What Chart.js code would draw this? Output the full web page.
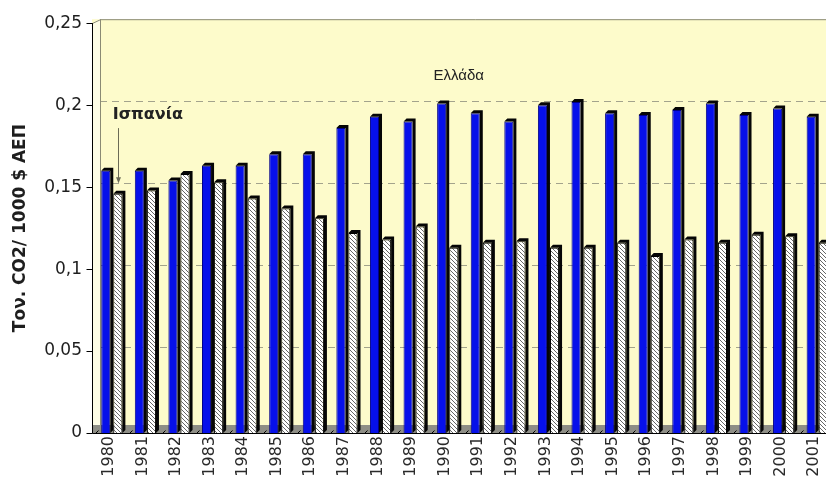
<!DOCTYPE html>
<html>
<head>
<meta charset="utf-8">
<script src="https://cdn.jsdelivr.net/npm/chart.js@4"></script>
<style>
  body { margin: 0; background: #fff; }
  #wrap { width: 826px; height: 479px; overflow: hidden; }
</style>
</head>
<body>
<div id="wrap"><canvas id="c" width="850" height="479"></canvas></div>
<script>
/* ---------- data ---------- */
const years = ["1980","1981","1982","1983","1984","1985","1986","1987","1988","1989","1990",
               "1991","1992","1993","1994","1995","1996","1997","1998","1999","2000","2001"];
const greece = [0.160,0.160,0.154,0.163,0.163,0.170,0.170,0.186,0.193,0.190,0.201,
                0.195,0.190,0.200,0.202,0.195,0.194,0.197,0.201,0.194,0.198,0.193];
const spain  = [0.146,0.148,0.158,0.153,0.143,0.137,0.131,0.122,0.118,0.126,0.113,
                0.116,0.117,0.113,0.113,0.116,0.108,0.118,0.116,0.121,0.120,0.116];
const yTicks = [0, 0.05, 0.1, 0.15, 0.2, 0.25];
const yTitle = "Τον. CO2/ 1000 $ ΑΕΠ";

const FONT = "'DejaVu Sans', Verdana, sans-serif";
const FONT2 = "'Liberation Sans', Arial, sans-serif";
const DX = 3, DY = 3;            // bar depth
const WALL_DX = 8, WALL_DY = -4; // back wall offset
const AXIS_SHIFT = 3;            // front axis sits left of the plot area

/* ---------- hatch pattern ---------- */
function makeHatch() {
  const c = document.createElement("canvas");
  c.width = 4; c.height = 4;
  const g = c.getContext("2d");
  g.fillStyle = "#fff";
  g.fillRect(0, 0, 4, 4);
  g.strokeStyle = "#666";
  g.lineWidth = 1;
  g.beginPath(); g.moveTo(-1, -1); g.lineTo(5, 5); g.stroke();
  return document.getElementById("c").getContext("2d").createPattern(c, "repeat");
}

/* ---------- 3D look ---------- */
const wallPlugin = {
  id: "wall",
  beforeDatasetsDraw(chart) {
    const ctx = chart.ctx, a = chart.chartArea, y = chart.scales.y;
    const ax = a.left - AXIS_SHIFT;
    const top = y.getPixelForValue(0.25), bot = y.getPixelForValue(0);
    ctx.save();
    // side + back wall
    ctx.fillStyle = "#fdfbcb";
    ctx.fillRect(ax, top + WALL_DY, chart.width, bot - top);
    ctx.fillStyle = "#fefde6";
    ctx.beginPath();
    ctx.moveTo(ax, top); ctx.lineTo(ax + WALL_DX, top + WALL_DY);
    ctx.lineTo(ax + WALL_DX, bot + WALL_DY); ctx.lineTo(ax, bot);
    ctx.closePath(); ctx.fill();
    // floor
    ctx.fillStyle = "#8e8e86";
    ctx.fillRect(ax, bot - 8, chart.width, 8);
    // grid lines on back wall
    ctx.strokeStyle = "#a3a38c";
    ctx.lineWidth = 1;
    ctx.setLineDash([7, 5]);
    yTicks.forEach(v => {
      if (v === 0 || v === 0.25) return;
      const py = Math.round(y.getPixelForValue(v) + WALL_DY) + 0.5;
      ctx.beginPath(); ctx.moveTo(ax + WALL_DX, py); ctx.lineTo(chart.width, py); ctx.stroke();
    });
    ctx.setLineDash([]);
    // wall borders
    ctx.strokeStyle = "#8a8a74";
    ctx.beginPath();
    ctx.moveTo(ax, top + 0.5); ctx.lineTo(ax + WALL_DX + 0.5, top + WALL_DY + 0.5);
    ctx.lineTo(chart.width, top + WALL_DY + 0.5);
    ctx.moveTo(ax + WALL_DX + 0.5, top + WALL_DY); ctx.lineTo(ax + WALL_DX + 0.5, bot - 8);
    ctx.stroke();
    ctx.restore();
  },
  afterDatasetDraw(chart, args) {
    const ctx = chart.ctx;
    const base = chart.scales.y.getPixelForValue(0);
    ctx.save();
    ctx.fillStyle = "#050505";
    args.meta.data.forEach(bar => {
      const p = bar.getProps(["x", "y", "width"], true);
      const l = p.x - p.width / 2, r = p.x + p.width / 2;
      ctx.beginPath();
      ctx.moveTo(l, p.y); ctx.lineTo(l + DX, p.y - DY); ctx.lineTo(r + DX, p.y - DY);
      ctx.lineTo(r + DX, base - DY); ctx.lineTo(r, base); ctx.lineTo(r, p.y);
      ctx.closePath(); ctx.fill();
    });
    ctx.restore();
  },
  afterDatasetsDraw(chart) {
    const ctx = chart.ctx, a = chart.chartArea, y = chart.scales.y, x = chart.scales.x;
    const ax = a.left - AXIS_SHIFT + 0.5;
    const bot = Math.round(y.getPixelForValue(0)) + 0.5;
    ctx.save();
    ctx.strokeStyle = "#000";
    ctx.lineWidth = 1;
    ctx.beginPath();
    ctx.moveTo(ax, y.getPixelForValue(0.25)); ctx.lineTo(ax, bot);
    ctx.lineTo(chart.width, bot);
    yTicks.forEach(v => {
      const py = Math.round(y.getPixelForValue(v)) + 0.5;
      ctx.moveTo(ax - 6, py); ctx.lineTo(ax, py);
    });
    // floor marks between categories
    for (let i = 0; i <= years.length; i++) {
      const px = Math.round(a.left + i * (a.right - a.left) / years.length) + 0.5;
      ctx.moveTo(px, bot); ctx.lineTo(px + 3, bot - 3);
    }
    ctx.stroke();

    // y axis title
    ctx.fillStyle = "#1e1e1e";
    ctx.textAlign = "center";
    ctx.textBaseline = "middle";
    ctx.save();
    ctx.translate(21, (y.getPixelForValue(0) + y.getPixelForValue(0.25)) / 2);
    ctx.rotate(-Math.PI / 2);
    ctx.font = "bold 17px " + FONT;
    ctx.fillText(yTitle, 0, 0);
    ctx.restore();

    // annotations
    ctx.fillStyle = "#222";
    ctx.font = "15px " + FONT2;
    ctx.fillText("Ελλάδα", x.getPixelForValue(10) + 11, y.getPixelForValue(0.218));
    ctx.font = "bold 16px " + FONT;
    ctx.fillText("Ισπανία", x.getPixelForValue(0) + 36, y.getPixelForValue(0.194));

    const sp = chart.getDatasetMeta(1).data[0];
    const axx = Math.round(sp.x) + 0.5;
    const y1 = y.getPixelForValue(0.186), y2 = y.getPixelForValue(0.153);
    ctx.strokeStyle = "#6b6b55";
    ctx.beginPath(); ctx.moveTo(axx, y1); ctx.lineTo(axx, y2); ctx.stroke();
    ctx.fillStyle = "#6b6b55";
    ctx.beginPath(); ctx.moveTo(axx - 2.5, y2 - 5); ctx.lineTo(axx + 2.5, y2 - 5); ctx.lineTo(axx, y2 + 1);
    ctx.closePath(); ctx.fill();
    ctx.restore();
  }
};

/* ---------- chart ---------- */
const chart = new Chart(document.getElementById("c"), {
  type: "bar",
  data: {
    labels: years,
    datasets: [
      { label: "Ελλάδα", data: greece, backgroundColor: "#0610ea", borderColor: "#00008a",
        borderWidth: 1, order: 0, barPercentage: 0.75, categoryPercentage: 0.72 },
      { label: "Ισπανία", data: spain, backgroundColor: makeHatch(), borderColor: "#000",
        borderWidth: 1, order: 1, barPercentage: 0.75, categoryPercentage: 0.72 }
    ]
  },
  options: {
    responsive: false,
    animation: false,
    layout: { padding: { top: 17, right: 16, left: 0, bottom: 0 } },
    plugins: { legend: { display: false }, tooltip: { enabled: false } },
    scales: {
      x: {
        grid: { display: false, drawTicks: false },
        border: { display: false },
        ticks: { autoSkip: false, minRotation: 90, maxRotation: 90, padding: 3, labelOffset: -3,
                 color: "#2a2a2a", font: { family: FONT, size: 16 } },
        afterFit: s => { s.height = 46; }
      },
      y: {
        min: 0, max: 0.25,
        afterBuildTicks: s => { s.ticks = yTicks.map(v => ({ value: v })); },
        grid: { display: false, drawTicks: false },
        border: { display: false },
        ticks: { padding: 13, color: "#1e1e1e", font: { family: FONT, size: 17 },
                 callback: v => String(v).replace(".", ",") },
        afterFit: s => { s.width = 95; }
      }
    }
  },
  plugins: [wallPlugin]
});
</script>
</body>
</html>
